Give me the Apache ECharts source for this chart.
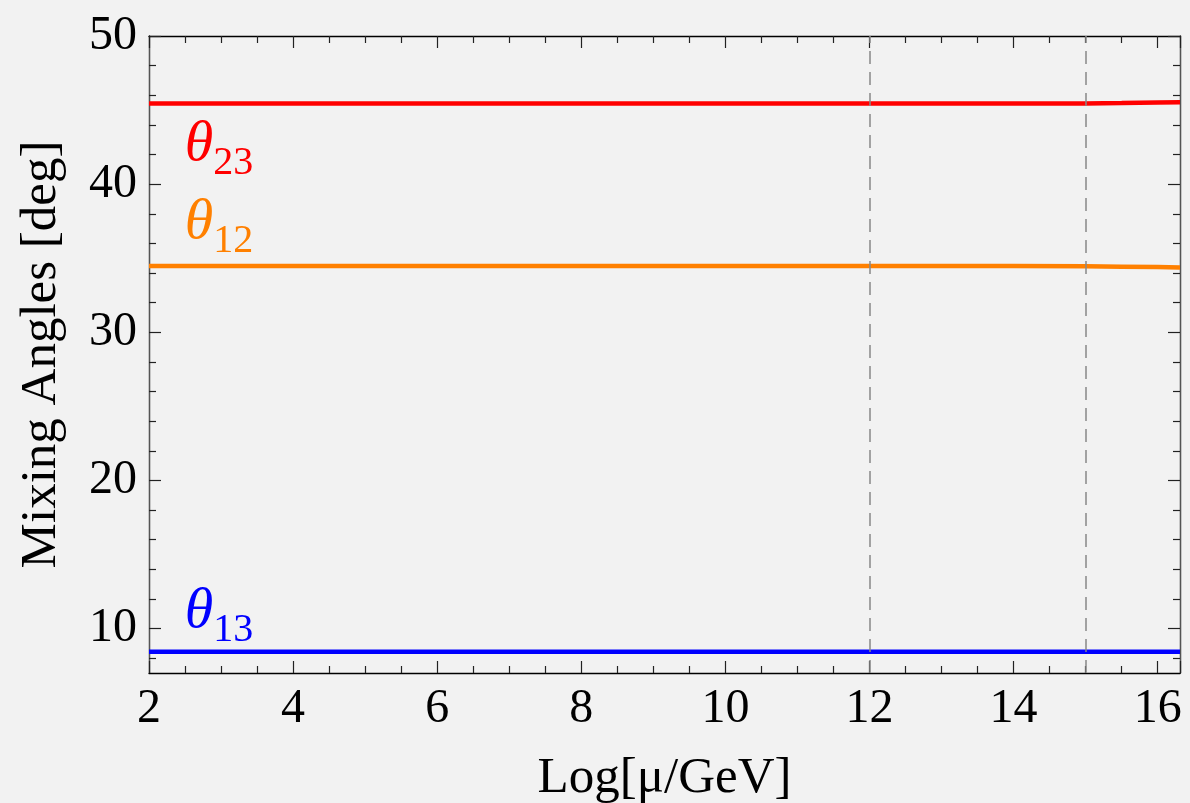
<!DOCTYPE html>
<html>
<head>
<meta charset="utf-8">
<script src="https://cdn.jsdelivr.net/npm/echarts@6/dist/echarts.min.js"></script>
<style>
  html, body { margin: 0; padding: 0; background: #f2f2f2; }
  #main { width: 1190px; height: 803px; }
</style>
</head>
<body>
<div id="main"></div>
<script>
// log10(mu / GeV)
var mu = [2, 4, 6, 8, 10, 12, 14, 15, 15.5, 16, 16.31];
var theta23 = [45.44, 45.44, 45.44, 45.44, 45.44, 45.44, 45.44, 45.44, 45.47, 45.51, 45.53];
var theta12 = [34.47, 34.47, 34.47, 34.47, 34.47, 34.47, 34.47, 34.46, 34.43, 34.40, 34.38];
var theta13 = [8.43, 8.43, 8.43, 8.43, 8.43, 8.43, 8.43, 8.43, 8.43, 8.43, 8.43];

var yMajor = [10, 20, 30, 40, 50];
var yMinor = [8, 12, 14, 16, 18, 22, 24, 26, 28, 32, 34, 36, 38, 42, 44, 46, 48];
var thresholds = [12, 15];

// curve labels: [x, y, subscript, colour]
var curveLabels = [
  [2.97, 42.65, "23", "#ff0000"],
  [2.97, 37.4, "12", "#ff8000"],
  [2.97, 11.15, "13", "#0000ff"]
];

var serif = "Liberation Serif";

function pair(arr) {
  return mu.map(function (x, i) { return [x, arr[i]]; });
}

function yAxisDef(pos, values, len, showLabel, lineColor) {
  return {
    type: "value", position: pos, min: 7, max: 50,
    splitLine: { show: false },
    axisLine: { show: true, lineStyle: { color: lineColor, width: 1.3 } },
    axisTick: { show: true, inside: true, length: len, customValues: values,
      lineStyle: { color: "#222", width: 1.2 } },
    axisLabel: { show: showLabel, customValues: values, margin: 12,
      color: "#000", fontFamily: serif, fontSize: 48 }
  };
}

var chartDom = document.getElementById("main");
var myChart = echarts.init(chartDom);

var options = {
  backgroundColor: "#f2f2f2",
  animation: false,
  grid: { left: 149, right: 10, top: 36, bottom: 130, outerBoundsMode: "none", containLabel: false },
  xAxis: [
    {
      type: "value", position: "bottom", min: 2, max: 16.31, interval: 2,
      name: "Log[\u03bc/GeV]", nameLocation: "middle", nameGap: 80,
      nameTextStyle: { color: "#000", fontFamily: serif, fontSize: 51 },
      splitLine: { show: false },
      axisLine: { lineStyle: { color: "#000", width: 1.3 } },
      axisTick: { inside: true, length: 12, lineStyle: { color: "#222", width: 1.2 } },
      minorTick: { show: true, splitNumber: 4, length: 7, lineStyle: { color: "#222", width: 1.2 } },
      axisLabel: { color: "#000", fontFamily: serif, fontSize: 48, margin: 12, showMaxLabel: false }
    },
    {
      type: "value", position: "top", min: 2, max: 16.31, interval: 2,
      splitLine: { show: false },
      axisLine: { lineStyle: { color: "#000", width: 1.3 } },
      axisTick: { inside: true, length: 12, lineStyle: { color: "#222", width: 1.2 } },
      minorTick: { show: true, splitNumber: 4, length: 7, lineStyle: { color: "#222", width: 1.2 } },
      axisLabel: { show: false }
    }
  ],
  yAxis: [
    Object.assign(yAxisDef("left", yMajor, 12, true, "#555"), {
      name: "Mixing Angles [deg]", nameLocation: "middle", nameGap: 82,
      nameTextStyle: { color: "#000", fontFamily: serif, fontSize: 51 }
    }),
    yAxisDef("left", yMinor, 7, false, "#555"),
    yAxisDef("right", yMajor, 12, false, "#555"),
    yAxisDef("right", yMinor, 7, false, "#555")
  ],
  series: [
    {
      name: "theta23", type: "line", data: pair(theta23), showSymbol: false,
      lineStyle: { color: "#ff0000", width: 4.5 }, itemStyle: { color: "#ff0000" },
      markLine: {
        silent: true, symbol: "none", label: { show: false },
        lineStyle: { color: "#888", width: 1.5, type: [13, 8] },
        data: thresholds.map(function (t) { return { xAxis: t }; })
      }
    },
    {
      name: "theta12", type: "line", data: pair(theta12), showSymbol: false,
      lineStyle: { color: "#ff8000", width: 4.5 }, itemStyle: { color: "#ff8000" }
    },
    {
      name: "theta13", type: "line", data: pair(theta13), showSymbol: false,
      lineStyle: { color: "#0000ff", width: 4.5 }, itemStyle: { color: "#0000ff" }
    },
    {
      name: "labels", type: "scatter", symbolSize: 0, silent: true,
      itemStyle: { opacity: 1 },
      data: curveLabels.map(function (c) {
        return {
          value: [c[0], c[1]],
          label: {
            show: true, position: "inside", opacity: 1,
            formatter: "{t|\u03b8}{s|" + c[2] + "}",
            rich: {
              t: { color: c[3], opacity: 1, fontFamily: serif, fontStyle: "italic", fontSize: 58, verticalAlign: "bottom" },
              s: { color: c[3], opacity: 1, fontFamily: serif, fontSize: 40, verticalAlign: "bottom", padding: [0, 0, -10, 0] }
            }
          }
        };
      })
    }
  ]
};

options && myChart.setOption(options);
</script>
</body>
</html>
